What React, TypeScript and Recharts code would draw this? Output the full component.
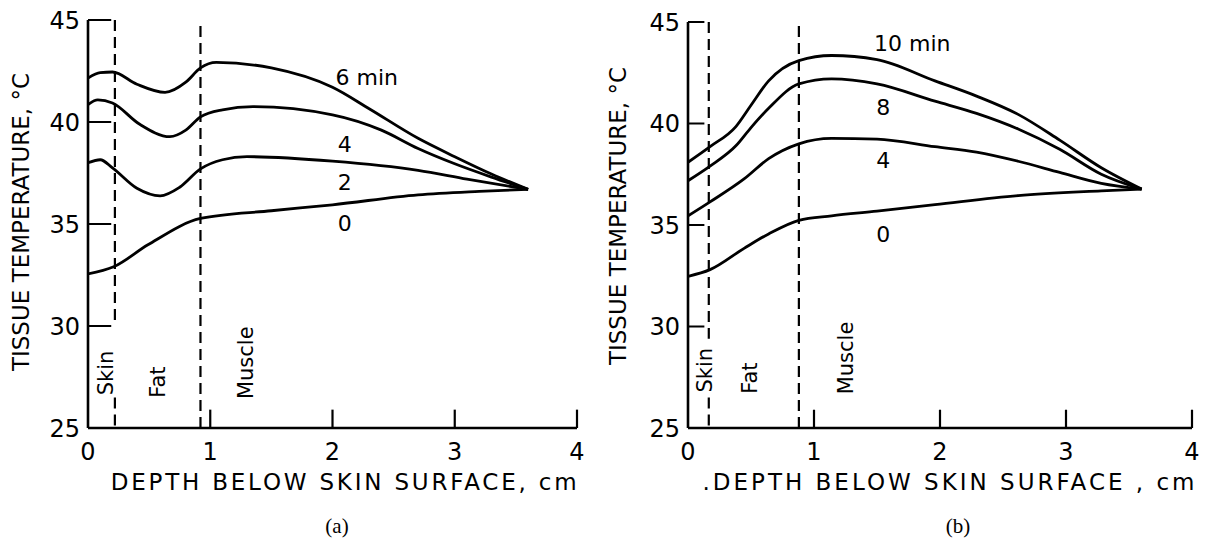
import { LineChart, Line, XAxis, YAxis, ReferenceLine, ReferenceDot } from "recharts";

// depth (cm), temperature (°C) pairs read per heating time
type Pair = [number, number];

// (a) left panel
const A_6MIN: Pair[] = [[0, 42.15], [0.1, 42.42], [0.2, 42.45], [0.4, 41.85], [0.63, 41.45], [0.8, 41.95], [0.92, 42.65], [1.05, 42.92], [1.5, 42.65], [2.0, 41.7], [2.3, 40.65], [2.7, 39.2], [3.0, 38.3], [3.3, 37.45], [3.6, 36.7]];
const A_4MIN: Pair[] = [[0, 40.85], [0.08, 41.08], [0.2, 40.93], [0.42, 39.9], [0.67, 39.28], [0.8, 39.6], [0.92, 40.25], [1.1, 40.6], [1.35, 40.75], [2.0, 40.35], [2.4, 39.6], [2.7, 38.7], [3.0, 37.95], [3.3, 37.3], [3.6, 36.7]];
const A_2MIN: Pair[] = [[0, 38.0], [0.1, 38.15], [0.2, 37.75], [0.4, 36.75], [0.59, 36.38], [0.75, 36.8], [0.92, 37.7], [1.1, 38.15], [1.3, 38.3], [2.0, 38.08], [2.7, 37.63], [3.1, 37.2], [3.6, 36.7]];
const A_0MIN: Pair[] = [[0, 32.55], [0.21, 32.9], [0.49, 33.98], [0.92, 35.27], [1.5, 35.65], [2.0, 35.94], [2.7, 36.43], [3.2, 36.6], [3.6, 36.7]];

// (b) right panel
const B_10MIN: Pair[] = [[0, 38.09], [0.175, 38.86], [0.38, 39.85], [0.5, 40.9], [0.64, 42.1], [0.88, 43.1], [1.14, 43.35], [1.5, 43.15], [1.96, 42.1], [2.29, 41.35], [2.62, 40.45], [2.95, 39.18], [3.28, 37.82], [3.6, 36.77]];
const B_8MIN: Pair[] = [[0, 37.18], [0.175, 37.9], [0.38, 38.9], [0.5, 39.8], [0.64, 40.75], [0.88, 41.95], [1.14, 42.2], [1.5, 41.95], [1.96, 41.1], [2.29, 40.5], [2.62, 39.73], [2.95, 38.73], [3.28, 37.5], [3.6, 36.77]];
const B_4MIN: Pair[] = [[0, 35.45], [0.175, 36.14], [0.445, 37.27], [0.64, 38.27], [0.88, 39.0], [1.14, 39.27], [1.5, 39.23], [1.96, 38.86], [2.29, 38.59], [2.62, 38.14], [2.95, 37.59], [3.28, 37.05], [3.6, 36.77]];
const B_0MIN: Pair[] = [[0, 32.47], [0.175, 32.8], [0.445, 33.85], [0.64, 34.56], [0.88, 35.23], [1.14, 35.45], [1.5, 35.68], [1.96, 36.0], [2.62, 36.45], [3.28, 36.68], [3.6, 36.77]];

const X_TICKS = [0, 1, 2, 3, 4];
const Y_TICKS = [25, 30, 35, 40, 45];

// tissue boundaries (cm)
const A_BOUNDS = { skinFat: 0.22, fatMuscle: 0.92 };
const B_BOUNDS = { skinFat: 0.165, fatMuscle: 0.88 };

type CurveLabel = { text: string; d: number; t: number };
const A_CURVE_LABELS: CurveLabel[] = [
  { text: "6 min", d: 2.28, t: 42.2 },
  { text: "4", d: 2.1, t: 38.9 },
  { text: "2", d: 2.1, t: 37.05 },
  { text: "0", d: 2.1, t: 35.05 },
];
const B_CURVE_LABELS: CurveLabel[] = [
  { text: "10 min", d: 1.78, t: 43.97 },
  { text: "8", d: 1.55, t: 40.8 },
  { text: "4", d: 1.55, t: 38.2 },
  { text: "0", d: 1.55, t: 34.55 },
];
const A_REGION_LABELS: CurveLabel[] = [
  { text: "Skin", d: 0.14, t: 27.7 },
  { text: "Fat", d: 0.57, t: 27.25 },
  { text: "Muscle", d: 1.29, t: 28.2 },
];
const B_REGION_LABELS: CurveLabel[] = [
  { text: "Skin", d: 0.135, t: 27.85 },
  { text: "Fat", d: 0.49, t: 27.46 },
  { text: "Muscle", d: 1.25, t: 28.45 },
];

const FONT = "'DejaVu Sans', sans-serif";
const INK = "#000";

const toPoints = (pairs: Pair[]) => pairs.map(([d, t]) => ({ d, t }));

interface PanelProps {
  left: number;
  width: number;
  top: number;
  right: number;
  curves: Pair[][];
  bounds: { skinFat: number; fatMuscle: number };
  skinGap: [number, number];
  tickLen: number;
  curveLabels: CurveLabel[];
  regionLabels: CurveLabel[];
}

function Panel({ left, width, top, right, curves, bounds, skinGap, tickLen, curveLabels, regionLabels }: PanelProps) {
  const tickStyle = { fill: INK, fontSize: 24, fontFamily: FONT };
  return (
    <div style={{ position: "absolute", left, top: 0 }}>
      <LineChart width={width} height={500} margin={{ top, right, bottom: 0, left: 0 }}>
        <XAxis
          type="number"
          dataKey="d"
          domain={[0, 4]}
          ticks={X_TICKS}
          allowDataOverflow
          height={72}
          tickLine={false}
          tickSize={0}
          tickMargin={15}
          tick={tickStyle}
          axisLine={{ stroke: INK, strokeWidth: 2.6 }}
        />
        <YAxis
          type="number"
          dataKey="t"
          domain={[25, 45]}
          ticks={Y_TICKS}
          allowDataOverflow
          width={88}
          tickLine={false}
          tickSize={0}
          tickMargin={8}
          tick={tickStyle}
          axisLine={{ stroke: INK, strokeWidth: 2.6 }}
        />

        {/* inward ticks */}
        {Y_TICKS.slice(1).map((v) => (
          <ReferenceLine key={`yt${v}`} segment={[{ x: 0, y: v }, { x: tickLen, y: v }]} stroke={INK} strokeWidth={2} ifOverflow="visible" />
        ))}
        {X_TICKS.slice(1).map((v) => (
          <ReferenceLine key={`xt${v}`} segment={[{ x: v, y: 25 }, { x: v, y: 25.9 }]} stroke={INK} strokeWidth={2.2} ifOverflow="visible" />
        ))}

        {/* skin / fat / muscle boundaries */}
        <ReferenceLine segment={[{ x: bounds.skinFat, y: 45 }, { x: bounds.skinFat, y: skinGap[0] }]} stroke={INK} strokeWidth={2.2} strokeDasharray="11 6" ifOverflow="visible" />
        <ReferenceLine segment={[{ x: bounds.skinFat, y: skinGap[1] }, { x: bounds.skinFat, y: 25 }]} stroke={INK} strokeWidth={2.2} strokeDasharray="11 6" ifOverflow="visible" />
        <ReferenceLine x={bounds.fatMuscle} stroke={INK} strokeWidth={2.2} strokeDasharray="11 6" />

        {curves.map((c, i) => (
          <Line
            key={i}
            data={toPoints(c)}
            dataKey="t"
            type="monotone"
            stroke={INK}
            strokeWidth={2.8}
            dot={false}
            activeDot={false}
            isAnimationActive={false}
          />
        ))}

        {curveLabels.map((l) => (
          <ReferenceDot
            key={`c${l.text}`}
            x={l.d}
            y={l.t}
            r={0}
            fill="none"
            stroke="none"
            ifOverflow="visible"
            label={{ value: l.text, position: "center", fontSize: 22, fill: INK, fontFamily: FONT }}
          />
        ))}
        {regionLabels.map((l) => (
          <ReferenceDot
            key={`r${l.text}`}
            x={l.d}
            y={l.t}
            r={0}
            fill="none"
            stroke="none"
            ifOverflow="visible"
            label={{ value: l.text, position: "center", angle: -90, fontSize: 21, fill: INK, fontFamily: FONT }}
          />
        ))}
      </LineChart>
    </div>
  );
}

export default function App() {
  return (
    <div style={{ position: "absolute", left: 0, top: 0, width: 1212, height: 539, background: "#fff", overflow: "hidden", fontFamily: FONT }}>
      <Panel
        left={0}
        width={600}
        top={20}
        right={23}
        curves={[A_6MIN, A_4MIN, A_2MIN, A_0MIN]}
        bounds={A_BOUNDS}
        skinGap={[30, 26.5]}
        tickLen={0.19}
        curveLabels={A_CURVE_LABELS}
        regionLabels={A_REGION_LABELS}
      />
      <Panel
        left={600}
        width={612}
        top={22}
        right={20}
        curves={[B_10MIN, B_8MIN, B_4MIN, B_0MIN]}
        bounds={B_BOUNDS}
        skinGap={[29.4, 26.5]}
        tickLen={0.13}
        curveLabels={B_CURVE_LABELS}
        regionLabels={B_REGION_LABELS}
      />

      {/* axis titles and panel captions */}
      <svg width={1212} height={539} style={{ position: "absolute", left: 0, top: 0, pointerEvents: "none" }}>
        <g fill={INK} fontFamily={FONT} fontSize={23}>
          <text x={21} y={222} textAnchor="middle" dominantBaseline="central" transform="rotate(-90 21 222)">
            TISSUE TEMPERATURE, °C
          </text>
          <text x={618} y={216} textAnchor="middle" dominantBaseline="central" transform="rotate(-90 618 216)">
            TISSUE TEMPERATURE, °C
          </text>
          <text x={345} y={490} textAnchor="middle" letterSpacing={2.8}>
            DEPTH BELOW SKIN SURFACE, cm
          </text>
          <text x={950} y={490} textAnchor="middle" letterSpacing={3}>
            .DEPTH BELOW SKIN SURFACE , cm
          </text>
        </g>
        <g fill={INK} fontFamily="'Liberation Serif', serif" fontSize={21}>
          <text x={337} y={533} textAnchor="middle">(a)</text>
          <text x={958} y={533} textAnchor="middle">(b)</text>
        </g>
      </svg>
    </div>
  );
}
